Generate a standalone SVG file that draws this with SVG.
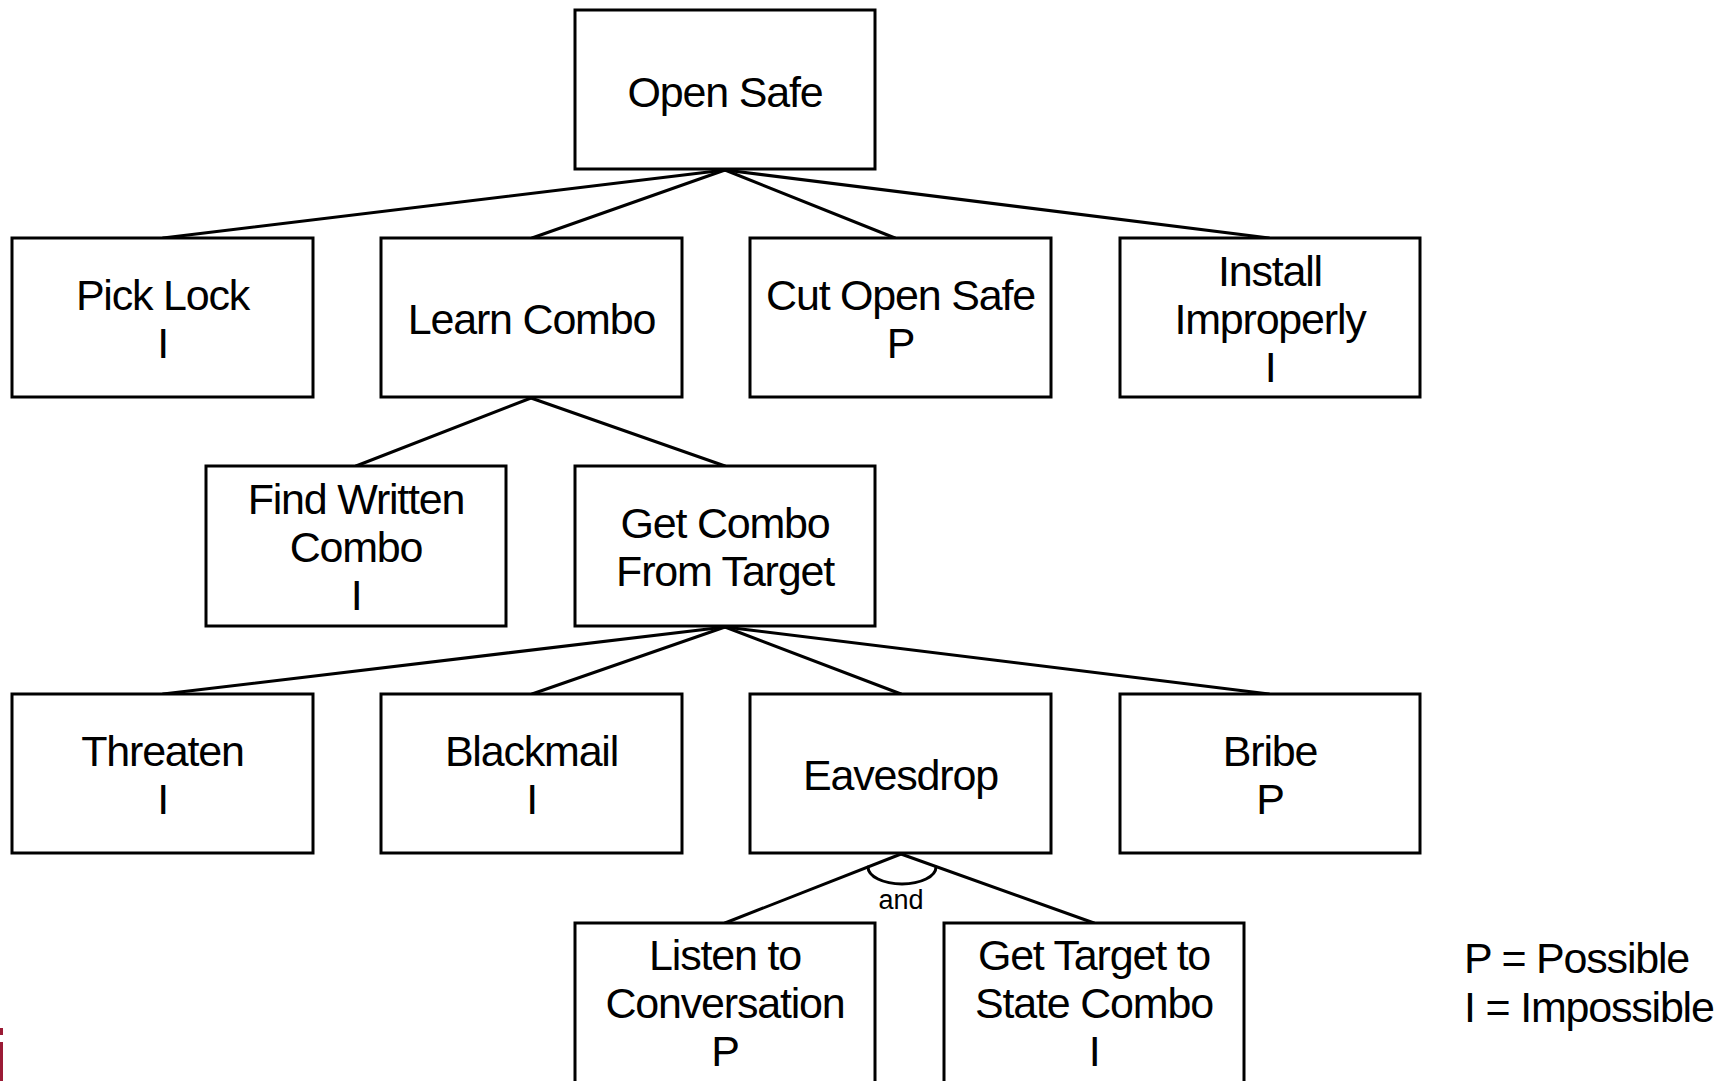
<svg xmlns="http://www.w3.org/2000/svg" width="1733" height="1081" viewBox="0 0 1733 1081">
<style>
.box{fill:#fff;stroke:#000;stroke-width:3}
.lbl{font-family:"Liberation Sans",Arial,Helvetica,sans-serif;font-size:43px;letter-spacing:-1.2px;fill:#000;text-anchor:middle}
.leg{font-family:"Liberation Sans",Arial,Helvetica,sans-serif;font-size:43px;letter-spacing:-1.2px;fill:#000}
.and{font-family:"Liberation Sans",Arial,Helvetica,sans-serif;font-size:27px;fill:#000;text-anchor:middle}
.conn{fill:none;stroke:#000;stroke-width:3;stroke-linecap:round}
</style>
<rect width="1733" height="1081" fill="#fff"/>
<g id="connectors">
<line class="conn" x1="725" y1="170" x2="163" y2="238"/>
<line class="conn" x1="725" y1="170" x2="532" y2="238"/>
<line class="conn" x1="725" y1="170" x2="895" y2="238"/>
<line class="conn" x1="725" y1="170" x2="1269" y2="238"/>
<line class="conn" x1="531" y1="398" x2="356" y2="466"/>
<line class="conn" x1="531" y1="398" x2="725" y2="466"/>
<line class="conn" x1="725" y1="627" x2="163" y2="694"/>
<line class="conn" x1="725" y1="627" x2="532" y2="694"/>
<line class="conn" x1="725" y1="627" x2="901" y2="694"/>
<line class="conn" x1="725" y1="627" x2="1269" y2="694"/>
<line class="conn" x1="901" y1="854" x2="725" y2="923"/>
<line class="conn" x1="901" y1="854" x2="1094" y2="923"/>
<path class="conn" d="M868 867 A34 17 0 0 0 936 867"/>
<text class="and" x="901" y="909">and</text>
</g>
<g id="open-safe"><rect class="box" x="575" y="10" width="300" height="159"/><text class="lbl" x="725" y="107">Open Safe</text></g>
<g id="pick-lock"><rect class="box" x="12" y="238" width="301" height="159"/><text class="lbl" x="162.5" y="310">Pick Lock</text><text class="lbl" x="162.5" y="358">I</text></g>
<g id="learn-combo"><rect class="box" x="381" y="238" width="301" height="159"/><text class="lbl" x="531.5" y="334">Learn Combo</text></g>
<g id="cut-open-safe"><rect class="box" x="750" y="238" width="301" height="159"/><text class="lbl" x="900.5" y="310">Cut Open Safe</text><text class="lbl" x="900.5" y="358">P</text></g>
<g id="install-improperly"><rect class="box" x="1120" y="238" width="300" height="159"/><text class="lbl" x="1270" y="286">Install</text><text class="lbl" x="1270" y="334">Improperly</text><text class="lbl" x="1270" y="382">I</text></g>
<g id="find-written-combo"><rect class="box" x="206" y="466" width="300" height="160"/><text class="lbl" x="356" y="514">Find Written</text><text class="lbl" x="356" y="562">Combo</text><text class="lbl" x="356" y="610">I</text></g>
<g id="get-combo-from-target"><rect class="box" x="575" y="466" width="300" height="160"/><text class="lbl" x="725" y="538">Get Combo</text><text class="lbl" x="725" y="586">From Target</text></g>
<g id="threaten"><rect class="box" x="12" y="694" width="301" height="159"/><text class="lbl" x="162.5" y="766">Threaten</text><text class="lbl" x="162.5" y="814">I</text></g>
<g id="blackmail"><rect class="box" x="381" y="694" width="301" height="159"/><text class="lbl" x="531.5" y="766">Blackmail</text><text class="lbl" x="531.5" y="814">I</text></g>
<g id="eavesdrop"><rect class="box" x="750" y="694" width="301" height="159"/><text class="lbl" x="900.5" y="790">Eavesdrop</text></g>
<g id="bribe"><rect class="box" x="1120" y="694" width="300" height="159"/><text class="lbl" x="1270" y="766">Bribe</text><text class="lbl" x="1270" y="814">P</text></g>
<g id="listen-to-conversation"><rect class="box" x="575" y="923" width="300" height="165"/><text class="lbl" x="725" y="970">Listen to</text><text class="lbl" x="725" y="1018">Conversation</text><text class="lbl" x="725" y="1066">P</text></g>
<g id="get-target-to-state-combo"><rect class="box" x="944" y="923" width="300" height="165"/><text class="lbl" x="1094" y="970">Get Target to</text><text class="lbl" x="1094" y="1018">State Combo</text><text class="lbl" x="1094" y="1066">I</text></g>
<g id="legend"><text class="leg" x="1464" y="973">P = Possible</text><text class="leg" x="1464" y="1022">I = Impossible</text></g>
<g id="edge-mark" fill="#9b1b35"><rect x="0" y="1028" width="3" height="7"/><rect x="0" y="1042" width="3" height="39"/></g>
</svg>
